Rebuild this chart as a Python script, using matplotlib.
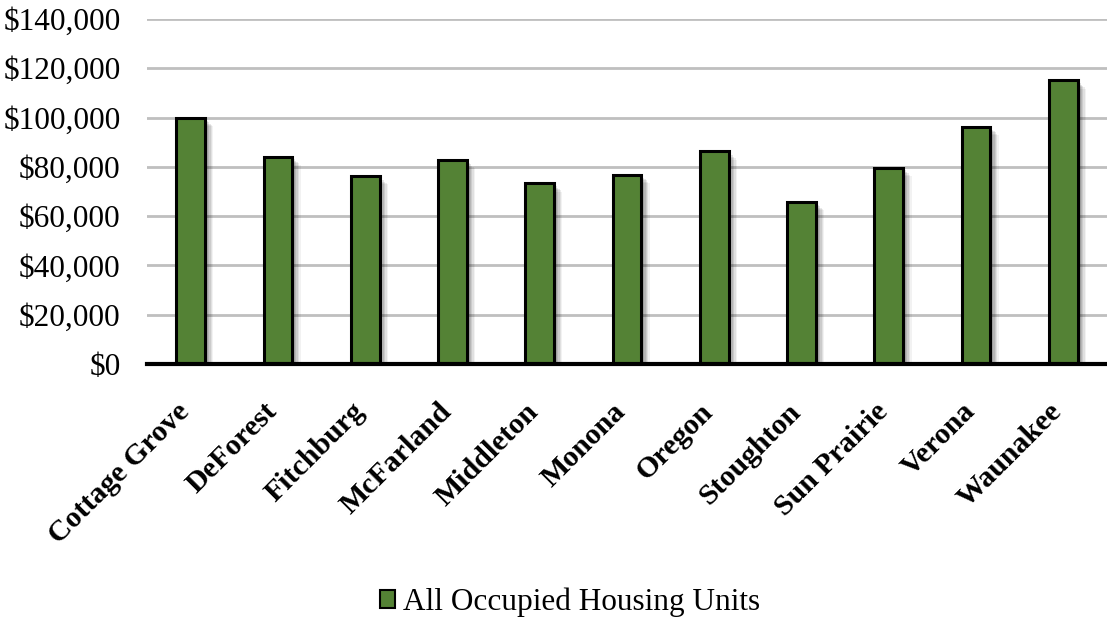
import matplotlib
matplotlib.use("Agg")
import matplotlib.pyplot as plt
import matplotlib.patheffects as pe
from matplotlib.ticker import FuncFormatter, MultipleLocator

categories = ["Cottage Grove", "DeForest", "Fitchburg", "McFarland", "Middleton",
              "Monona", "Oregon", "Stoughton", "Sun Prairie", "Verona", "Waunakee"]
values = [99800, 84200, 76300, 82800, 73300, 76800, 86300, 65700, 79700, 96200, 115100]
series_name = "All Occupied Housing Units"

plt.rcParams['font.family'] = ['Liberation Serif', 'DejaVu Serif']

fig = plt.figure(figsize=(11.07, 6.2), dpi=100)
ax = fig.add_axes([147/1107, 1 - 364/620, 1 - 147/1107, (364 - 19)/620])

green = "#548235"
shadow = [pe.SimplePatchShadow(offset=(o, -o), shadow_rgbFace='black', alpha=a)
          for o, a in [(6, 0.05), (5, 0.07), (4, 0.09), (3, 0.1), (2, 0.1)]]
bars = ax.bar(range(len(categories)), values, width=0.33, color=green,
              edgecolor='black', linewidth=2.2, zorder=3, label=series_name)
for b in bars:
    b.set_path_effects(shadow + [pe.Normal()])

ax.set_xlim(-0.5, len(categories) - 0.5)
ax.set_ylim(0, 140000)
ax.yaxis.set_major_locator(MultipleLocator(20000))
ax.yaxis.set_major_formatter(FuncFormatter(lambda v, p: f"${v:,.0f}"))
ax.grid(axis='y', color='#BFBFBF', linewidth=2, zorder=0)
ax.set_axisbelow(True)
for s in ['top', 'right', 'left']:
    ax.spines[s].set_visible(False)
ax.spines['bottom'].set_linewidth(3)
ax.spines['bottom'].set_color('black')
ax.spines['bottom'].set_zorder(4)

ax.tick_params(axis='y', length=0, labelsize=22.5, pad=19, labelcolor='black')
ax.tick_params(axis='x', length=0, pad=35)
ax.set_xticks(range(len(categories)))
ax.set_xticklabels(categories, rotation=45, ha='right', va='baseline',
                   rotation_mode='anchor', fontweight='bold', fontsize=21.5)

leg = fig.legend(handles=[bars[0]], labels=[series_name], loc='center',
                 bbox_to_anchor=(570/1107, 1 - 602/620), frameon=False,
                 fontsize=22.5, handlelength=0.5, handleheight=0.5,
                 handletextpad=0.25)
for h in leg.legend_handles:
    h.set_path_effects([])
    h.set_linewidth(1.5)

fig.savefig("out.png", dpi=100)
